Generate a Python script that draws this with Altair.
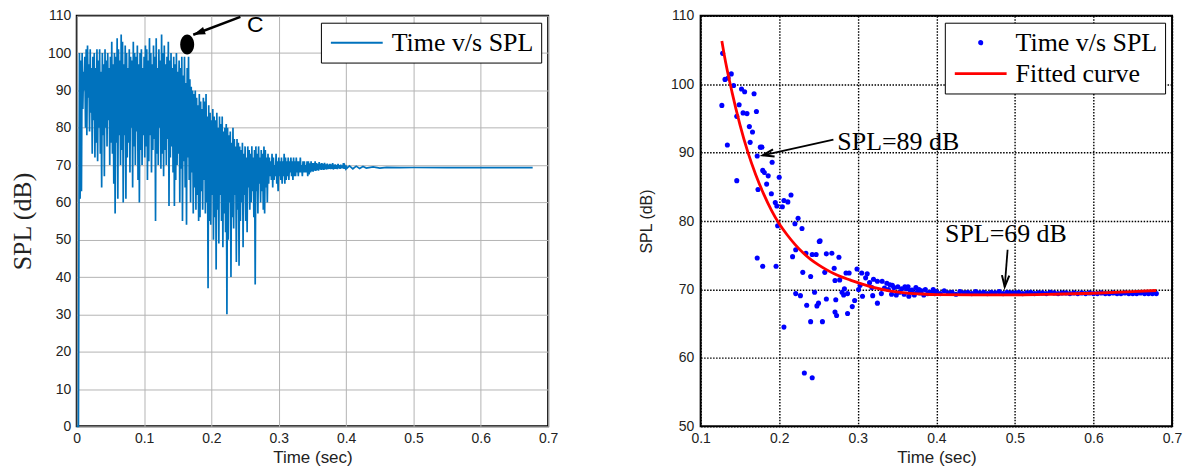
import math
import altair as alt
import pandas as pd

# ---------------- Left panel: Time v/s SPL signal ----------------
start_t = [0.0, 0.0025]
start_v = [0.0, 0.0]
# local maxima / minima of the signal, read every 2 ms from 0.004 s to 0.400 s
peak_v = [
    100, 98, 100, 95, 99, 101, 102, 97, 101, 96,
    99, 100, 96, 101, 98, 101, 95, 100, 97, 101,
    98, 100, 96, 99, 103, 97, 100, 99, 104, 101,
    98, 105, 103, 97, 102, 100, 96, 101, 99, 98,
    103, 100, 99, 102, 97, 100, 101, 96, 99, 102,
    101, 98, 104, 100, 97, 102, 99, 104, 96, 101,
    98, 105, 100, 102, 97, 99, 103, 98, 100, 96,
    99, 97, 100, 95, 98, 96, 99, 94, 99, 92,
    96, 99, 93, 91, 90, 89, 90, 88, 86, 89,
    87, 85, 88, 87, 89, 83, 86, 84, 82, 85,
    83, 82, 84, 80, 83, 81, 83, 79, 80, 81,
    80, 78, 79, 76, 80, 77, 75, 77, 76, 75,
    74, 76, 73, 75, 72, 75, 74, 73, 75, 72,
    74, 75, 73, 75, 72, 74, 73, 75, 74, 72,
    73, 72, 71, 73, 72, 70, 73, 71, 72, 71,
    72, 71, 73, 72, 71, 72, 71, 72, 71, 72,
    71, 72, 71, 71, 72, 70, 71, 71, 70, 71,
    71, 70.5, 71, 70.5, 70.5, 71, 70.5, 70.3, 70.8, 70.4,
    70.5, 70.3, 70.6, 70.2, 70.4, 70.1, 70.3, 70.2, 70.5, 70.1,
    70.2, 70.0, 70.3, 70.0, 70.1, 69.9, 70.5, 69.8, 69.9,
]
trough_v = [
    61, 63, 85, 90, 80, 78, 88, 79, 84, 73,
    82, 72, 76, 71, 80, 73, 64, 78, 67, 80,
    75, 82, 70, 76, 73, 65, 57, 76, 61, 78,
    70, 74, 60, 78, 61, 72, 76, 68, 80, 64,
    75, 70, 79, 66, 60, 74, 70, 78, 72, 75,
    66, 71, 78, 68, 74, 77, 55, 73, 70, 80,
    69, 73, 67, 74, 70, 77, 59, 72, 75, 68,
    59, 66, 70, 73, 60, 69, 55, 71, 64, 54,
    72, 66, 60, 68, 57, 64, 58, 62, 55, 56,
    63, 58, 66, 57, 60, 37, 55, 54, 62, 50,
    56, 42, 58, 49, 62, 55, 48, 57, 52, 30,
    50, 60, 40, 56, 53, 62, 44, 58, 43, 55,
    60, 48, 62, 55, 52, 64, 58, 60, 63, 56,
    38, 63, 57, 65, 60, 63, 58, 57, 64, 60,
    65, 67, 66, 64, 66, 67, 65, 63, 67, 66,
    65, 67, 65, 66, 67, 66, 68, 67, 66, 67,
    67, 68, 67, 68, 68, 67, 68, 68, 68, 67,
    67.5, 68, 68.3, 68.2, 68.5, 68.4, 68.6, 68.5, 68.8, 68.7,
    68.8, 68.7, 68.9, 68.8, 68.9, 69.0, 68.9, 69.0, 68.8, 69.0,
    69.0, 68.9, 69.1, 69.0, 69.1, 69.1, 69.0, 69.2, 69.1,
]
tail_t = [0.405, 0.41, 0.415, 0.42, 0.425, 0.43, 0.44, 0.45, 0.46, 0.48, 0.50, 0.55, 0.60, 0.65, 0.677]
tail_v = [69.8, 69.0, 69.7, 69.1, 69.6, 69.2, 69.5, 69.2, 69.4, 69.3, 69.35, 69.3, 69.3, 69.3, 69.3]

# ---------------- Right panel: scatter + fitted curve ----------------
scatter_t = [
    0.128, 0.131, 0.127, 0.135, 0.139, 0.142, 0.134, 0.146, 0.149, 0.152,
    0.156, 0.154, 0.159, 0.162, 0.166, 0.163, 0.168, 0.171, 0.176, 0.178,
    0.172, 0.191, 0.179, 0.181, 0.186, 0.184, 0.190, 0.200, 0.173, 0.146,
    0.195, 0.197, 0.204, 0.206, 0.211, 0.215, 0.198, 0.220, 0.224, 0.229,
    0.172, 0.179, 0.196, 0.217, 0.221, 0.234, 0.242, 0.247, 0.252, 0.260,
    0.267, 0.276, 0.230, 0.240, 0.258, 0.270, 0.277, 0.285, 0.289, 0.299,
    0.305, 0.312, 0.271, 0.221, 0.227, 0.245, 0.235, 0.248, 0.250, 0.260,
    0.271, 0.273, 0.272, 0.280, 0.282, 0.283, 0.287, 0.287, 0.293, 0.296,
    0.301, 0.306, 0.310, 0.319, 0.325, 0.320, 0.318, 0.325, 0.331, 0.330,
    0.337, 0.339, 0.206, 0.240, 0.255, 0.232, 0.242, 0.251, 0.303, 0.315,
    0.344, 0.346, 0.351, 0.356, 0.360, 0.364, 0.367, 0.371, 0.374, 0.378,
    0.381, 0.386, 0.391, 0.396, 0.343, 0.349, 0.353, 0.359, 0.365, 0.372,
    0.379, 0.384, 0.389, 0.393, 0.398, 0.334, 0.341, 0.362, 0.369, 0.376,
]
scatter_v = [
    104.5, 100.7, 96.9, 100.9, 101.5, 99.8, 91.1, 95.3, 97.0, 99.3,
    98.9, 95.8, 95.7, 93.8, 93.0, 91.5, 98.6, 96.0, 90.8, 90.8,
    89.5, 88.6, 87.4, 87.1, 86.6, 85.4, 84.0, 86.4, 84.6, 85.9,
    82.7, 82.2, 82.1, 83.0, 82.8, 83.8, 79.3, 79.6, 80.4, 78.9,
    74.6, 73.4, 73.4, 74.8, 75.8, 75.3, 75.1, 75.1, 77.1, 75.2,
    75.3, 74.7, 72.5, 71.9, 72.5, 73.1, 71.4, 72.4, 72.4, 73.0,
    72.4, 72.3, 71.3, 69.4, 69.1, 69.6, 67.7, 67.6, 68.0, 68.6,
    66.7, 66.2, 68.5, 69.6, 69.2, 70.1, 69.4, 66.5, 67.5, 68.4,
    70.0, 69.0, 71.7, 69.1, 68.0, 71.5, 70.3, 71.2, 71.2, 69.4,
    70.9, 70.0, 64.5, 65.3, 65.3, 57.8, 57.1, 77.0, 70.6, 71.0,
    70.6, 70.3, 70.4, 70.1, 70.4, 70.4, 69.8, 69.4, 70.3, 70.0,
    69.8, 70.0, 69.6, 70.0, 69.3, 69.2, 69.6, 69.3, 69.0, 69.2,
    69.5, 69.2, 69.4, 69.6, 69.4, 70.2, 70.7, 70.1, 69.9, 69.7,
]
# dense band of samples, every 5 ms from 0.400 s to 0.680 s
band_v = [
    69.7, 69.4, 69.8, 69.5, 69.6, 69.3, 69.7, 69.5, 69.6, 69.4,
    69.7, 69.5, 69.6, 69.4, 69.6, 69.5, 69.7, 69.4, 69.6, 69.5,
    69.5, 69.6, 69.4, 69.5, 69.6, 69.4, 69.5, 69.5, 69.4, 69.6,
    69.5, 69.4, 69.5, 69.5, 69.4, 69.5, 69.4, 69.5, 69.4, 69.5,
    69.4, 69.4, 69.5, 69.4, 69.4, 69.5, 69.4, 69.4, 69.5, 69.4,
    69.4, 69.4, 69.5, 69.4, 69.4, 69.4, 69.4,
]
fit_t = [0.127, 0.13, 0.14, 0.15, 0.16, 0.17, 0.18, 0.19, 0.20, 0.21,
         0.22, 0.23, 0.24, 0.25, 0.26, 0.27, 0.28, 0.29, 0.30, 0.32,
         0.34, 0.36, 0.38, 0.40, 0.45, 0.50, 0.55, 0.60, 0.65, 0.68]
fit_v = [106.3, 104.3, 98.8, 94.1, 90.1, 86.8, 84.0, 81.6, 79.6, 78.0,
         76.6, 75.4, 74.4, 73.6, 72.9, 72.3, 71.8, 71.4, 71.0, 70.3,
         69.8, 69.5, 69.35, 69.25, 69.2, 69.2, 69.3, 69.45, 69.7, 69.85]

# annotations
c_mark = {"t": [0.164], "v": [102.3]}
c_label = {"t": [0.265], "v": [107.6], "txt": ["C"]}
c_arrow = {"t": [0.243], "v": [109.7], "t2": [0.173], "v2": [104.9]}
r_labels = {"t": [0.274, 0.411], "v": [91.6, 78.1], "txt": ["SPL=89 dB", "SPL=69 dB"]}
r_arrows = {"t": [0.269, 0.4907], "v": [91.9, 75.8], "t2": [0.179, 0.487], "v2": [89.6, 70.4]}

# ---------------- build tables ----------------
W, H = 473, 412
sig_t, sig_v = list(start_t), list(start_v)
for i, (p, q) in enumerate(zip(peak_v, trough_v)):
    t0 = 0.004 + 0.002 * i
    sig_t += [t0, t0 + 0.001]
    sig_v += [p, q]
sig_t += tail_t
sig_v += tail_v
df_sig = pd.DataFrame({"t": sig_t, "v": sig_v, "series": "Time v/s SPL"})

band_t = [0.400 + 0.005 * i for i in range(len(band_v))]
df_sc = pd.DataFrame({"t": scatter_t + band_t, "v": scatter_v + band_v})
df_fit = pd.DataFrame({"t": fit_t, "v": fit_v})
dom = ["Time v/s SPL", "Fitted curve"]
df_leg = pd.DataFrame({"series": dom, "t": [0.0, 0.0], "v": [0.0, 0.0]})


def arrow_df(d, xspan, yspan):
    df = pd.DataFrame(d)
    angs = []
    for a, b, c, e in zip(df.t, df.v, df.t2, df.v2):
        dx = (c - a) * W / xspan
        dy = -(e - b) * H / yspan
        angs.append(math.degrees(math.atan2(dx, -dy)) % 360)
    df["ang"] = angs
    return df


df_carrow = arrow_df(c_arrow, 0.7, 110)
df_rarrow = arrow_df(r_arrows, 0.6, 60)

SANS = "Liberation Sans"
SERIF = "Liberation Serif"
TXT = "#222222"
LINE_SYM = "M -1 0 H 4.2"
DOT_SYM = "M 1.72 0 A 0.12 0.12 0 1 0 1.48 0 A 0.12 0.12 0 1 0 1.72 0 Z"

xs_l = alt.Scale(domain=[0, 0.7], nice=False, zero=False)
ys_l = alt.Scale(domain=[0, 110], nice=False, zero=False)
xs_r = alt.Scale(domain=[0.1, 0.7], nice=False, zero=False)
ys_r = alt.Scale(domain=[50, 110], nice=False, zero=False)

common_axis = dict(labelFont=SANS, labelColor=TXT, titleColor=TXT, ticks=False, domain=False,
                   titleFontWeight="normal", labelFontSize=14)

xax_l = alt.Axis(values=[0, 0.1, 0.2, 0.3, 0.4, 0.5, 0.6, 0.7], format="~g", title="Time (sec)",
                 titleFont=SANS, titleFontSize=17, labelPadding=5, titlePadding=4,
                 gridColor="#b4b4b4", gridWidth=1, labelFlush=False, **common_axis)
yax_l = alt.Axis(values=list(range(0, 111, 10)), title="SPL (dB)", titleFont=SERIF, titleFontSize=26,
                 labelPadding=6, titlePadding=12, gridColor="#b4b4b4", gridWidth=1, **common_axis)
xax_r = alt.Axis(values=[0.1, 0.2, 0.3, 0.4, 0.5, 0.6, 0.7], format="~g", title="Time (sec)",
                 titleFont=SANS, titleFontSize=17, labelPadding=5, titlePadding=4,
                 gridColor="black", gridDash=[1.5, 1.5], gridWidth=1.4, labelFlush=False, **common_axis)
yax_r = alt.Axis(values=list(range(50, 111, 10)), title="SPL (dB)", titleFont=SANS, titleFontSize=16,
                 labelPadding=7, titlePadding=16, gridColor="black", gridDash=[1.5, 1.5], gridWidth=1.4,
                 **common_axis)

leg_common = dict(title=None, orient="top-right", offset=7, padding=7, strokeColor="black",
                  fillColor="white", labelFont=SERIF, labelFontSize=26, labelColor="black",
                  labelLimit=400, cornerRadius=0, symbolSize=400, labelOffset=38)

# ---------------- left chart ----------------
line_l = alt.Chart(df_sig).mark_line(strokeWidth=1.7).encode(
    x=alt.X("t:Q", scale=xs_l, axis=xax_l),
    y=alt.Y("v:Q", scale=ys_l, axis=yax_l),
    color=alt.Color("series:N", scale=alt.Scale(domain=["Time v/s SPL"], range=["#0072BD"]),
                    legend=alt.Legend(symbolType=LINE_SYM, symbolStrokeWidth=2, **leg_common)),
    order="t:Q",
)
ellipse = alt.Chart(pd.DataFrame(c_mark)).mark_point(
    shape="M -0.7 0 A 0.7 1 0 1 0 0.7 0 A 0.7 1 0 1 0 -0.7 0 Z",
    filled=True, color="black", opacity=1, size=400).encode(
    x=alt.X("t:Q", scale=xs_l, axis=xax_l), y=alt.Y("v:Q", scale=ys_l, axis=yax_l))
c_rule = alt.Chart(df_carrow).mark_rule(color="black", strokeWidth=2.5).encode(
    x=alt.X("t:Q", scale=xs_l, axis=xax_l), y=alt.Y("v:Q", scale=ys_l, axis=yax_l), x2="t2", y2="v2")
c_head = alt.Chart(df_carrow).mark_point(
    shape="M 0 0 L -0.55 1.7 L 0.55 1.7 Z", filled=True, color="black", opacity=1, size=200).encode(
    x=alt.X("t2:Q", scale=xs_l, axis=xax_l), y=alt.Y("v2:Q", scale=ys_l, axis=yax_l),
    angle=alt.Angle("ang:Q", scale=None))
c_text = alt.Chart(pd.DataFrame(c_label)).mark_text(font=SANS, fontSize=23, color="black",
                                                    align="center", baseline="middle").encode(
    x=alt.X("t:Q", scale=xs_l, axis=xax_l), y=alt.Y("v:Q", scale=ys_l, axis=yax_l), text="txt:N")

left = alt.layer(line_l, c_rule, c_head, ellipse, c_text).properties(width=W, height=H)

# ---------------- right chart ----------------
pts = alt.Chart(df_sc).mark_point(filled=True, color="#0000ff", size=26, opacity=1).encode(
    x=alt.X("t:Q", scale=xs_r, axis=xax_r),
    y=alt.Y("v:Q", scale=ys_r, axis=yax_r),
)
leg_r = alt.Legend(symbolStrokeWidth=2.7, rowPadding=5, **leg_common)
legend_layer = alt.Chart(df_leg).mark_point(filled=False, strokeWidth=2.7, size=400, opacity=1,
                                            clip=True).encode(
    x=alt.X("t:Q", scale=xs_r, axis=xax_r),
    y=alt.Y("v:Q", scale=ys_r, axis=yax_r),
    color=alt.Color("series:N", scale=alt.Scale(domain=dom, range=["#0000ff", "#ff0000"]), legend=leg_r),
    shape=alt.Shape("series:N", scale=alt.Scale(domain=dom, range=[DOT_SYM, LINE_SYM]), legend=leg_r),
)
fit = alt.Chart(df_fit).mark_line(color="#ff0000", strokeWidth=2.8, interpolate="monotone").encode(
    x=alt.X("t:Q", scale=xs_r, axis=xax_r), y=alt.Y("v:Q", scale=ys_r, axis=yax_r))
r_rule = alt.Chart(df_rarrow).mark_rule(color="black", strokeWidth=1.8).encode(
    x=alt.X("t:Q", scale=xs_r, axis=xax_r), y=alt.Y("v:Q", scale=ys_r, axis=yax_r), x2="t2", y2="v2")
r_head = alt.Chart(df_rarrow).mark_point(
    shape="M -0.55 1.7 L 0 0 L 0.55 1.7", filled=False, color="black", opacity=1, strokeWidth=2,
    size=180).encode(
    x=alt.X("t2:Q", scale=xs_r, axis=xax_r), y=alt.Y("v2:Q", scale=ys_r, axis=yax_r),
    angle=alt.Angle("ang:Q", scale=None))
r_text = alt.Chart(pd.DataFrame(r_labels)).mark_text(font=SERIF, fontSize=26, color="black",
                                                     align="left", baseline="middle").encode(
    x=alt.X("t:Q", scale=xs_r, axis=xax_r), y=alt.Y("v:Q", scale=ys_r, axis=yax_r), text="txt:N")

right = alt.layer(pts, legend_layer, fit, r_rule, r_head, r_text).properties(width=W, height=H)

chart = alt.hconcat(left, right, spacing=78).resolve_scale(
    color="independent", shape="independent"
).properties(
    padding={"left": 8, "top": 7, "right": 5, "bottom": 0}, background="white"
).configure_view(stroke="black", strokeWidth=2)

chart.save("out.html", embed_options={"renderer": "svg", "actions": False})
